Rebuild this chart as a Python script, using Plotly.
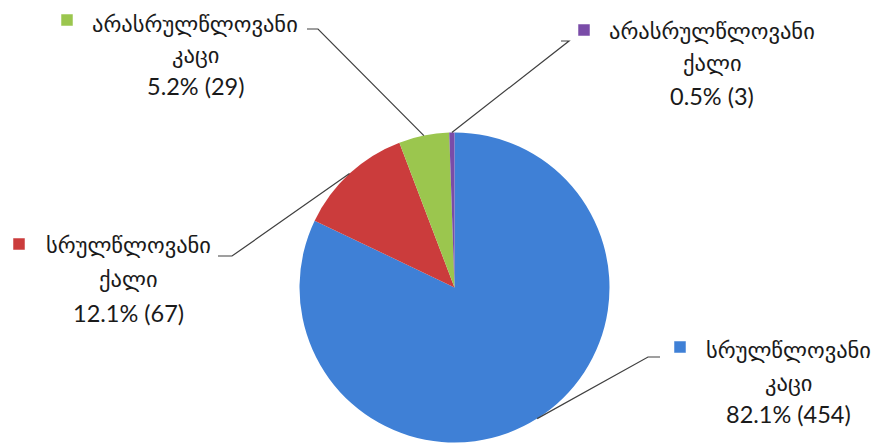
import math
import plotly.graph_objects as go

# ---- data ----
categories = ["სრულწლოვანი კაცი", "სრულწლოვანი ქალი", "არასრულწლოვანი კაცი", "არასრულწლოვანი ქალი"]
name_line1 = ["სრულწლოვანი", "სრულწლოვანი", "არასრულწლოვანი", "არასრულწლოვანი"]
name_line2 = ["კაცი", "ქალი", "კაცი", "ქალი"]
counts = [454, 67, 29, 3]
percents = ["82.1%", "12.1%", "5.2%", "0.5%"]
colors = ["#3F80D6", "#CB3C3C", "#9BC64E", "#7A4CA8"]

W, H = 879, 444
OFF = 8  # page body margin offset in the browser
# pie geometry (screen pixels)
CX, CY, R = 454.5, 287.5, 155.0

# label layout (screen pixels): centre x, line y's, marker centre, elbow start/end
label_cx = [788, 128, 195, 712]
label_y = [(350, 383, 414), (245, 279, 313), (24, 55, 86), (31, 63, 96)]
marker_xy = [(680, 347), (19, 244), (67, 20), (584, 30)]
elbow = [((660, 357), (648, 357)), ((218, 256), (232, 256)),
         ((307, 29), (318, 29)), ((561, 41), (569, 41))]


def px(x):
    return (x - OFF) / W


def py(y):
    return 1 - (y - OFF) / H


fig = go.Figure(go.Pie(
    labels=categories,
    values=counts,
    sort=False,
    direction="clockwise",
    rotation=0,
    marker=dict(colors=colors, line=dict(width=0)),
    textinfo="none",
    hoverinfo="label+value+percent",
    showlegend=False,
    domain=dict(x=[px(CX - R), px(CX + R)], y=[py(CY + R), py(CY - R)]),
))

annotations = []
shapes = []
total = sum(counts)
cum = 0
for i, v in enumerate(counts):
    mid = (cum + v / 2) / total * 2 * math.pi
    cum += v
    ex = CX + R * math.sin(mid)
    ey = CY - R * math.cos(mid)
    (ax, ay), (bx, by) = elbow[i]
    shapes.append(dict(type="path", xref="paper", yref="paper",
                       path=f"M {px(ax)} {py(ay)} L {px(bx)} {py(by)} L {px(ex)} {py(ey)}",
                       line=dict(color="#404040", width=1.2)))
    mx, my = marker_xy[i]
    shapes.append(dict(type="rect", xref="paper", yref="paper",
                       x0=px(mx - 5.5), x1=px(mx + 5.5), y0=py(my + 5.5), y1=py(my - 5.5),
                       fillcolor=colors[i], line=dict(color=colors[i], width=0.5)))
    texts = [name_line1[i], name_line2[i], f"{percents[i]} ({counts[i]})"]
    for j, t in enumerate(texts):
        is_num = j == 2
        annotations.append(dict(
            x=px(label_cx[i]), y=py(label_y[i][j]), xref="paper", yref="paper",
            text=t, showarrow=False, xanchor="center", yanchor="middle",
            borderpad=0,
            font=dict(family="Lato, DejaVu Sans, sans-serif" if is_num else "DejaVu Sans, sans-serif",
                      size=23.5 if is_num else 22.5, color="#1a1a1a"),
        ))

fig.update_layout(
    width=W, height=H,
    margin=dict(l=0, r=0, t=0, b=0),
    paper_bgcolor="white",
    plot_bgcolor="white",
    annotations=annotations,
    shapes=shapes,
)

fig.write_html("out.html")
